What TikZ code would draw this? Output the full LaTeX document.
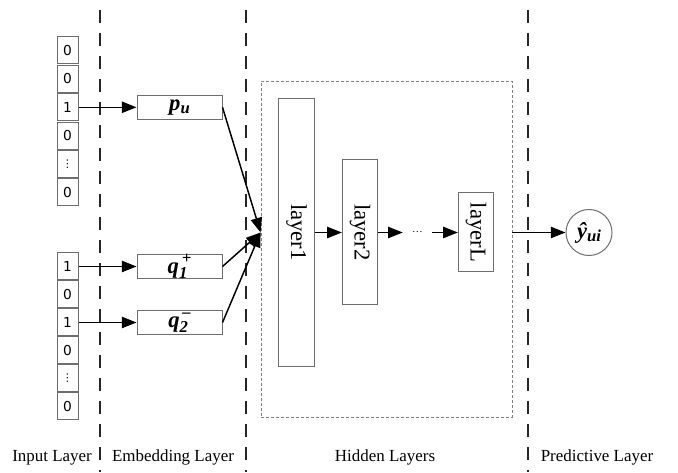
\documentclass[tikz,border=0pt]{standalone}
\usepackage{fontspec}
\setmainfont{Liberation Serif}
\newfontfamily\digitfont{DejaVu Sans}
\usetikzlibrary{arrows.meta,calc}
\definecolor{boxgray}{RGB}{110,110,110}
\newcommand{\lowsub}[2]{\raisebox{#1}{\fontsize{12.5}{12.5}\selectfont #2}}
\begin{document}
\begin{tikzpicture}[x=0.75pt,y=-0.75pt,
  bit/.style={draw=boxgray, line width=0.75pt, minimum width=15.75pt, minimum height=20.25pt, inner sep=0pt, font=\digitfont\fontsize{10.3}{11}\selectfont},
  emb/.style={draw=boxgray, line width=0.75pt, minimum width=63.75pt, minimum height=18.4pt, inner sep=0pt, font=\bfseries\itshape\fontsize{17}{18}\selectfont},
  layerbox/.style={draw=boxgray, line width=0.75pt, minimum width=26.5pt, inner sep=0pt, font=\fontsize{17}{20}\selectfont},
  conn/.style={line width=1.1pt, -{Triangle[length=11pt,width=8.5pt]}},
  sepline/.style={line width=1.5pt, dash pattern=on 9.75pt off 7.5pt, draw=black!85},
  caption/.style={anchor=base, font=\fontsize{12.7}{15}\selectfont},
]
\useasboundingbox (0,0) rectangle (678,473);

% separators
\draw[sepline] (100,10) -- (100,472);
\draw[sepline] (246,10) -- (246,472);
\draw[sepline] (528,10) -- (528,472);

% input column 1
\node[bit] (a1) at (67.5,50.5) {0};
\node[bit] (a2) at (67.5,78.9) {0};
\node[bit] (a3) at (67.5,107.3) {1};
\node[bit] (a4) at (67.5,135.7) {0};
\node[bit] (a5) at (67.5,164.1) {\fontsize{8}{8}\selectfont ⋮};
\node[bit] (a6) at (67.5,192.5) {0};
% input column 2
\node[bit] (b1) at (67.5,266.5) {1};
\node[bit] (b2) at (67.5,294.5) {0};
\node[bit] (b3) at (67.5,322.5) {1};
\node[bit] (b4) at (67.5,350.5) {0};
\node[bit] (b5) at (67.5,378.5) {\fontsize{8}{8}\selectfont ⋮};
\node[bit] (b6) at (67.5,406.5) {0};

% embedding
\node[emb] (pu) at (179.5,107.3) {p\lowsub{-2.5pt}{u}};
\node[emb] (q1) at (179.5,266.5) {q\rlap{\lowsub{-4pt}{1}}\lowsub{7.5pt}{\,+}};
\node[emb] (q2) at (179.5,322.5) {q\rlap{\lowsub{-4pt}{2}}\lowsub{7.5pt}{\,\textendash}};

% hidden layers
\node[draw=gray, line width=0.6pt, dash pattern=on 2.25pt off 1.5pt, minimum width=188.25pt, minimum height=252pt, inner sep=0pt] (hid) at (386.5,249) {};
\node[layerbox, minimum height=201pt] (l1) at (296.5,232.5) {\rotatebox{-90}{layer1}};
\node[layerbox, minimum height=108.75pt] (l2) at (360,232.5) {\rotatebox{-90}{layer2}};
\node[layerbox, minimum height=59.25pt] (lL) at (476,232.5) {\rotatebox{-90}{layerL}};
\node[minimum width=21.75pt, inner sep=0pt, font=\fontsize{8}{8}\selectfont] (dots) at (417.5,232.5) {…};
\coordinate (conv) at (hid.west |- l1.center);

% output
\node[circle, draw=boxgray, line width=0.75pt, minimum size=34.5pt, inner sep=0pt, font=\bfseries\itshape\fontsize{17}{18}\selectfont] (out) at (589,232.5) {ŷ\lowsub{-2.5pt}{ui}};

% connectors
\draw[conn] (a3.east) -- (pu.west);
\draw[conn] (b1.east) -- (q1.west);
\draw[conn] (b3.east) -- (q2.west);
\draw[conn] (pu.east) -- (conv);
\draw[conn] (q1.east) -- (conv);
\draw[conn] (q2.east) -- (conv);
\draw[conn] (l1.east) -- (l2.west);
\draw[conn] (l2.east) -- (dots.west);
\draw[conn] (dots.east) -- (lL.west);
\draw[conn] (lL.east -| hid.east) -- (out.west);

% captions
\node[caption] (c1) at (52,462) {Input Layer};
\node[caption] (c2) at (173,462) {Embedding Layer};
\node[caption] (c3) at (385,462) {Hidden Layers};
\node[caption] (c4) at (597,462) {Predictive Layer};
\end{tikzpicture}
\end{document}
